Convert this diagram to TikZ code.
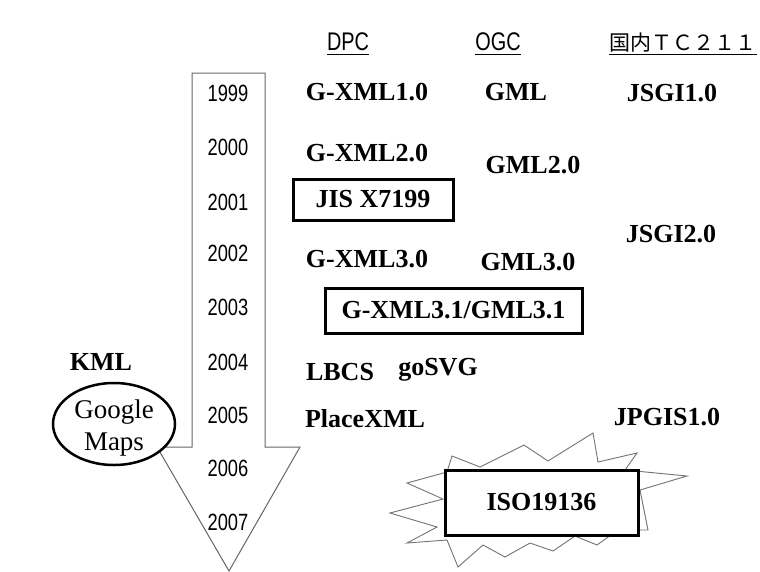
\documentclass[tikz,border=0pt]{standalone}
\usepackage{fontspec}
\setmainfont{Liberation Serif}
\newfontfamily\gothic[FakeStretch=0.78]{Liberation Sans}
\newfontfamily\cjk{Noto Sans CJK JP}
\usetikzlibrary{shapes.geometric}
\begin{document}
\begin{tikzpicture}[x=1pt,y=-1pt,
  lbl/.style={font=\fontsize{26}{26}\selectfont\bfseries, inner sep=0pt, anchor=base},
  rlbl/.style={font=\fontsize{27}{27}\selectfont, inner sep=0pt, anchor=base},
  yr/.style={font=\gothic\fontsize{23.5}{23.5}\selectfont, inner sep=0pt, anchor=base},
  hdr/.style={font=\gothic\fontsize{25.5}{25.5}\selectfont, inner sep=0pt, anchor=base},
  cjkhdr/.style={font=\cjk\fontsize{21}{21}\selectfont, inner sep=0pt, anchor=base},
  uline/.style={line width=1.3pt},
  framebox/.style={draw, line width=3pt, inner sep=0pt, fill=white},
  arrowline/.style={draw=black!60, line width=1pt, fill=white, line join=miter},
  burst/.style={draw=black!55, line width=0.9pt, fill=white, line join=miter}]
\useasboundingbox (0,0) rectangle (760,571);
\fill[white] (0,0) rectangle (760,571);

% big timeline arrow
\draw[arrowline] (192,73) -- (265,73) -- (265,447) -- (300,447) -- (229,571) -- (157,447) -- (192,447) -- cycle;

% years
\node[yr] (y1999) at (228,101.5) {1999};
\node[yr] (y2000) at (228,155.5) {2000};
\node[yr] (y2001) at (228,210.5) {2001};
\node[yr] (y2002) at (228,261.5) {2002};
\node[yr] (y2003) at (228,315.5) {2003};
\node[yr] (y2004) at (228,370.5) {2004};
\node[yr] (y2005) at (228,423.5) {2005};
\node[yr] (y2006) at (228,476.5) {2006};
\node[yr] (y2007) at (228,530.5) {2007};

% headers
\node[hdr] (dpc) at (348,50) {DPC};
\node[hdr] (ogc) at (498,50) {OGC};
\node[cjkhdr] (tc) at (683,50) {国内ＴＣ２１１};
\draw[uline] ([yshift=-4.5pt]dpc.base west) -- ([yshift=-4.5pt]dpc.base east);
\draw[uline] ([yshift=-4.5pt]ogc.base west) -- ([yshift=-4.5pt]ogc.base east);
\draw[uline] ([yshift=-4.5pt]tc.base west) -- ([yshift=-4.5pt]tc.base east);

% DPC column
\node[lbl] (gxml10) at (367,100) {G-XML1.0};
\node[lbl] (gxml20) at (367,161) {G-XML2.0};
\node[framebox, minimum width=160pt, minimum height=41pt, font=\fontsize{26}{26}\selectfont\bfseries] (jis) at (373,199.5) {JIS X7199};
\node[lbl] (gxml30) at (367,267) {G-XML3.0};
\node[framebox, minimum width=257pt, minimum height=45pt, font=\fontsize{26}{26}\selectfont\bfseries] (gxml31) at (453.5,310.5) {G-XML3.1/GML3.1};
\node[lbl] (lbcs) at (340,380) {LBCS};
\node[lbl] (gosvg) at (438,375) {goSVG};
\node[lbl] (placexml) at (365,427) {PlaceXML};

% OGC column
\node[lbl] (gml) at (516,100) {GML};
\node[lbl] (gml20) at (533,173) {GML2.0};
\node[lbl] (gml30) at (528,270) {GML3.0};

% TC211 column
\node[lbl] (jsgi10) at (672,101) {JSGI1.0};
\node[lbl] (jsgi20) at (671,242) {JSGI2.0};
\node[lbl] (jpgis) at (667,425) {JPGIS1.0};

% KML / Google Maps
\node[lbl] (kml) at (101,370) {KML};
\node[ellipse, draw, line width=2.5pt, fill=white, minimum width=122pt, minimum height=82pt, inner sep=0pt] (gmaps) at (114,424) {};
\node[rlbl] (google) at (114,418) {Google};
\node[rlbl] (maps) at (114,450) {Maps};

% ISO 19136 starburst
\draw[burst] (452,456) -- (480,467) -- (524,445) -- (548,461) -- (593,433) -- (598,462)
  -- (637,453) -- (625,470) -- (687,476) -- (640,490) -- (648,530) -- (618,530)
  -- (597,545) -- (575,536) -- (553,551) -- (530,543) -- (505,557) -- (483,545)
  -- (458,567) -- (447,540) -- (407,543) -- (437,527) -- (390,513) -- (443,499)
  -- (407,483) -- (447,472) -- cycle;
\node[framebox, minimum width=193pt, minimum height=65pt, font=\fontsize{26}{26}\selectfont\bfseries] (iso) at (541.5,502.5) {ISO19136};
\end{tikzpicture}
\end{document}
